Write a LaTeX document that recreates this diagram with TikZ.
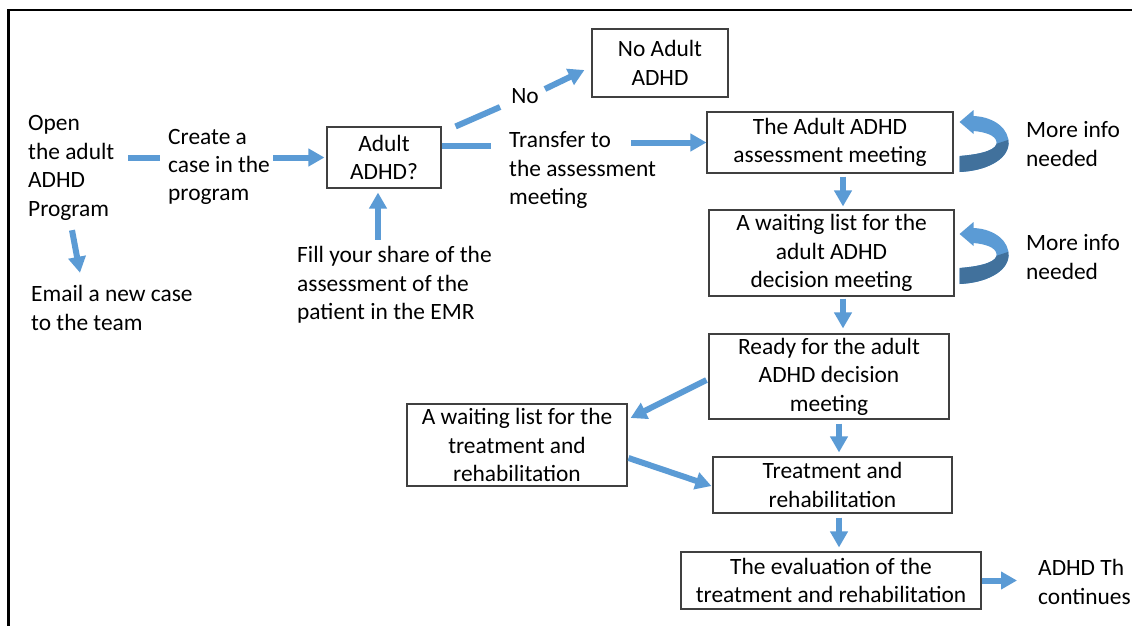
\documentclass[tikz,border=0pt]{standalone}
\usepackage{fontspec}
\setmainfont{Carlito}
\usetikzlibrary{arrows.meta,calc}
\definecolor{abl}{HTML}{5B9BD5}
\definecolor{abd}{HTML}{41719C}
\definecolor{bord}{HTML}{404040}
\tikzset{
 txt/.style={font=\fontsize{23.4}{28.4}\selectfont, inner sep=0pt, text=black},
 lt/.style={txt, align=left, anchor=west},
 flowbox/.style={txt, draw=bord, line width=1.1pt, align=center},
 arr/.style={draw=abl, line width=6pt, -{Triangle[width=17pt,length=16pt]}},
 bar/.style={draw=abl, line width=6pt},
}
\newcommand\myinfoshape{(0,0) -- (14,-12) -- (14,-6) .. controls (36,-5) and (50,8) .. (49,22) .. controls (48,38) and (26,49) .. (0,50) -- (0,34) .. controls (25,32) and (38,27) .. (37,20) .. controls (36,13) and (25,10) .. (14,9) -- (14,12) -- cycle}
\newcommand\myinfoarrow{%
  \fill[abl] \myinfoshape;
  \begin{scope}
    \clip (-2,35) -- (60,14) -- (60,60) -- (-2,60) -- cycle;
    \fill[abd] \myinfoshape;
  \end{scope}}
\begin{document}
\begin{tikzpicture}[x=1pt,y=-1pt]
\useasboundingbox (0,0) rectangle (1132,626);
\clip (0,0) rectangle (1132,626);
\fill[white] (0,0) rectangle (1132,626);
\draw[line width=2.5pt] (8.3,626) -- (8.3,10) -- (1132,10);

% text nodes
\node[lt, minimum height=120pt] (open) at (28,168) {Open\\the adult\\ADHD\\Program};
\node[lt, minimum height=90pt] (create) at (168,167) {Create a\\case in the\\program};
\node[lt, minimum height=60pt] (email) at (31,308) {Email a new case\\to the team};
\node[lt, minimum height=88pt] (fill) at (297,285) {Fill your share of the\\assessment of the\\patient in the EMR};
\node[txt] (nolabel) at (525,96) {No};
\node[lt, minimum height=90pt] (transfer) at (509,170) {Transfer to\\the assessment\\meeting};
\node[lt, minimum height=60pt] (more1) at (1026,144) {More info\\needed};
\node[lt, minimum height=60pt] (more2) at (1026,257) {More info\\needed};
\node[lt, minimum height=60pt] (adhdth) at (1038,582) {ADHD Th\\continues};

% boxes
\node[flowbox, minimum width=114pt, minimum height=61pt] (q) at (384,157.5) {Adult\\ADHD?};
\node[flowbox, minimum width=136pt, minimum height=68pt] (nobox) at (660,63) {No Adult\\ADHD};
\node[flowbox, minimum width=246pt, minimum height=61pt] (assess) at (830,142.5) {The Adult ADHD\\assessment meeting};
\node[flowbox, minimum width=245pt, minimum height=86pt] (wait1) at (831.5,253) {A waiting list for the\\adult ADHD\\decision meeting};
\node[flowbox, minimum width=240pt, minimum height=85pt] (ready) at (829,376.5) {Ready for the adult\\ADHD decision\\meeting};
\node[flowbox, minimum width=239pt, minimum height=56pt] (treat) at (832.5,485) {Treatment and\\rehabilitation};
\node[flowbox, minimum width=300pt, minimum height=57pt] (eval) at (831,580.5) {The evaluation of the\\treatment and rehabilitation};
\node[flowbox, minimum width=220pt, minimum height=82pt] (wait2) at (517,445) {A waiting list for the\\treatment and\\rehabilitation};

% connectors
\draw[bar] ($(open.west |- q.west)+(100,0)$) -- ($(create.west |- q.west)+(-8,0)$);
\draw[arr] ($(create.west |- q.west)+(105,0)$) -- ($(q.west)+(-2,0)$);
\draw[arr] ($(open.south west)+(44,2)$) -- ($(email.north west)+(49,-5)$);
\draw[arr] ($(fill.north west)+(81,-1)$) -- ($(q.south)+(-6,4)$);
\draw[bar] ($(q.east)+(0,-12)$) -- ($(transfer.west |- q.east)+(-18,-12)$);
\draw[bar] ($(q.north east)+(14,0)$) -- ($(nolabel.west)+(-11,11)$);
\draw[arr] ($(nolabel.east)+(6,-7)$) -- ($(nobox.west)+(-7,7)$);
\draw[arr] ($(transfer.west |- assess.west)+(122,0)$) -- (assess.west);
\draw[arr] ($(assess.south)+(13,3)$) -- ($(wait1.north)+(11.5,-3)$);
\draw[arr] ($(wait1.south)+(11.5,2)$) -- ($(ready.north)+(14,-5)$);
\draw[arr] ($(ready.south)+(10,4)$) -- ($(treat.north)+(6.5,-4)$);
\draw[arr] ($(treat.south)+(6.5,4)$) -- ($(eval.north)+(8,-4)$);
\draw[arr] (eval.east) -- ($(adhdth.west |- eval.east)+(-21,0)$);
\draw[arr] ($(ready.west)+(-2,3.5)$) -- ($(wait2.east)+(3,-27)$);
\draw[arr] ($(wait2.east)+(1,13)$) -- ($(treat.west)+(-1,1)$);

% curved "more info" arrows
\begin{scope}[shift={($(assess.east)+(6,-20.5)$)}]
  \myinfoarrow
\end{scope}
\begin{scope}[shift={($(wait1.east)+(5,-19)$)}]
  \myinfoarrow
\end{scope}
\end{tikzpicture}
\end{document}
